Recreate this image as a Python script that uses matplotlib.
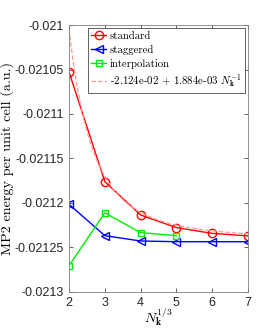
import matplotlib
matplotlib.use("Agg")
import matplotlib.pyplot as plt
import numpy as np

plt.rcParams['mathtext.fontset'] = 'cm'

# data
n13 = [2, 3, 4, 5, 6, 7]
standard = [-0.0210528, -0.021176, -0.0212135, -0.0212277, -0.0212341, -0.021237]
staggered = [-0.0212015, -0.0212367, -0.0212427, -0.0212435, -0.0212435, -0.0212435]
n13_interp = [2, 3, 4, 5]
interp = [-0.0212704, -0.021211, -0.0212333, -0.0212367]

# fit coefficients (from legend)
fit_a = -2.124e-02
fit_b = 1.884e-03

yticks = [-0.021, -0.02105, -0.0211, -0.02115, -0.0212, -0.02125, -0.0213]
yticklabels = ['-0.021', '-0.02105', '-0.0211', '-0.02115', '-0.0212', '-0.02125', '-0.0213']

fig = plt.figure(figsize=(2.74, 3.29), dpi=100)
ax = fig.add_axes([0.252, 0.1125, 0.653, 0.8115])

ax.plot(n13, standard, '-o', color='red', mfc='none', ms=6, lw=1, label='standard')
ax.plot(n13, staggered, '-<', color='blue', mfc='none', ms=6, lw=1, label='staggered')
ax.plot(n13_interp, interp, '-s', color='#00ee00', mfc='none', ms=5, lw=1, label='interpolation')
xf = np.linspace(2, 7, 200)
ax.plot(xf, fit_a + fit_b / xf**3, '--', color='#ff9999', lw=0.9,
        label=r'-2.124e-02 + 1.884e-03 $N_{\mathbf{k}}^{-1}$')

ax.set_xlim(2, 7)
ax.set_ylim(-0.0213, -0.021)
ax.set_xticks(n13)
ax.set_yticks(yticks)
ax.set_yticklabels(yticklabels)
ax.tick_params(direction='in', top=True, right=True, labelsize=9, colors='#262626',
               length=3, width=0.5)
for lab in ax.get_xticklabels() + ax.get_yticklabels():
    lab.set_family('Liberation Sans')
for s in ax.spines.values():
    s.set_color('#808080')
    s.set_linewidth(0.6)

ax.set_xlabel(r'$N_{\mathbf{k}}^{1/3}$', fontsize=10, labelpad=-2)
ax.set_ylabel('MP2 energy per unit cell (a.u.)', fontsize=10.2, family='cmr10', labelpad=1)

leg = ax.legend(loc='upper right', prop={'family': 'cmr10', 'size': 7.8}, fancybox=False,
                framealpha=1, borderpad=0.3, labelspacing=0.35, handlelength=1.4,
                handletextpad=0.3, borderaxespad=0.3)
leg.get_frame().set_edgecolor('#262626')
leg.get_frame().set_linewidth(0.5)

fig.savefig('out.png', dpi=100)
